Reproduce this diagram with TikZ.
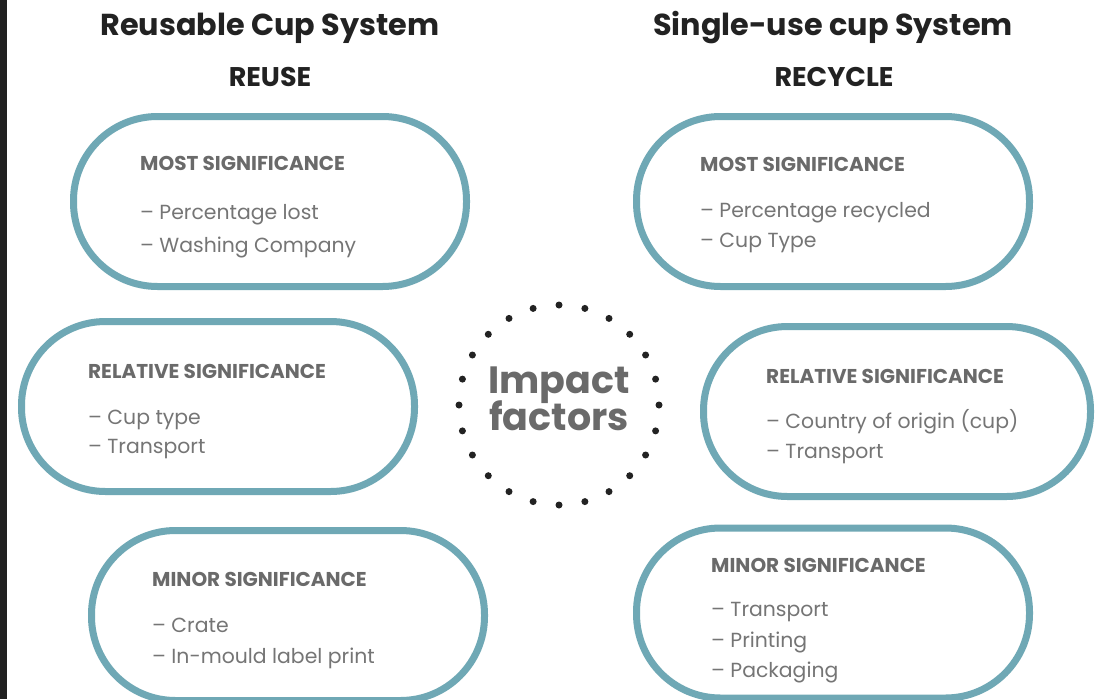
\documentclass[tikz,border=0pt]{standalone}
\usepackage{fontspec}
\setmainfont{Poppins}
\usetikzlibrary{calc}
\definecolor{teal}{HTML}{6FA8B5}
\definecolor{hdr}{HTML}{6A6A6A}
\definecolor{body}{HTML}{757575}
\definecolor{ttl}{HTML}{222222}
\definecolor{strip}{HTML}{212121}
\tikzset{
  cupbox/.style={draw=teal, line width=7pt, rounded corners=84pt, fill=white, minimum width=393pt, minimum height=170pt, inner sep=0pt},
  hd/.style={anchor=base west, inner sep=0pt, text=hdr, font=\fontsize{20}{22}\selectfont\bfseries},
  it/.style={anchor=base west, inner sep=0pt, text=body, font=\fontsize{20.4}{22}\selectfont},
  bigttl/.style={anchor=base, inner sep=0pt, text=ttl, font=\fontsize{30.3}{32}\selectfont\bfseries},
  subttl/.style={anchor=base, inner sep=0pt, text=ttl, font=\fontsize{27}{29}\selectfont\bfseries},
  imptxt/.style={anchor=base, inner sep=0pt, text=hdr, font=\fontsize{38}{40}\selectfont\bfseries},
  dot/.style={circle, fill=ttl, minimum size=7pt, inner sep=0pt}
}
\begin{document}
\begin{tikzpicture}[x=1pt,y=1pt]
\useasboundingbox (0,0) rectangle (1097,-699);
\fill[white] (0,0) rectangle (1097,-699);
\fill[strip] (0,0) rectangle (7,-699);
% boxes
\node[cupbox] (tl) at (270,-201.5) {};
\node[cupbox] (tr) at (833,-201.5) {};
\node[cupbox] (ml) at (218,-406.5) {};
\node[cupbox, minimum width=387pt] (mr) at (897,-411.5) {};
\node[cupbox] (bl) at (288,-615.5) {};
\node[cupbox] (br) at (833,-613) {};
% titles
\node[bigttl] (t1) at (270,-35) {Reusable Cup System};
\node[bigttl] (t2) at (833,-35) {Single-use cup System};
\node[subttl] (s1) at (270,-86.5) {REUSE};
\node[subttl] (s2) at (834,-86.5) {RECYCLE};
% TL
\node[hd] (tlh) at (140,-170) {MOST SIGNIFICANCE};
\node[it] (tl1) at (140,-219) {– Percentage lost};
\node[it] (tl2) at (140,-252) {– Washing Company};
% TR
\node[hd] (trh) at (700,-171.5) {MOST SIGNIFICANCE};
\node[it] (tr1) at (700,-217.5) {– Percentage recycled};
\node[it] (tr2) at (700,-247.5) {– Cup Type};
% ML
\node[hd] (mlh) at (88,-378.5) {RELATIVE SIGNIFICANCE};
\node[it] (ml1) at (88,-424.5) {– Cup type};
\node[it] (ml2) at (88,-453.5) {– Transport};
% MR
\node[hd] (mrh) at (766,-383.5) {RELATIVE SIGNIFICANCE};
\node[it] (mr1) at (766,-428.5) {– Country of origin (cup)};
\node[it] (mr2) at (766,-458.5) {– Transport};
% BL
\node[hd] (blh) at (152,-586.5) {MINOR SIGNIFICANCE};
\node[it] (bl1) at (152,-632.5) {– Crate};
\node[it] (bl2) at (152,-663.5) {– In-mould label print};
% BR
\node[hd] (brh) at (711,-572) {MINOR SIGNIFICANCE};
\node[it] (br1) at (711,-616) {– Transport};
\node[it] (br2) at (711,-647) {– Printing};
\node[it] (br3) at (711,-677) {– Packaging};
% centre
\node[imptxt] (imp1) at (559,-393) {Impact};
\node[imptxt] (imp2) at (559,-430) {factors};
\foreach \a in {0,15,...,345} {
  \node[dot] (d\a) at ($(559,-405)+(\a:100)$) {};
}
\end{tikzpicture}
\end{document}
